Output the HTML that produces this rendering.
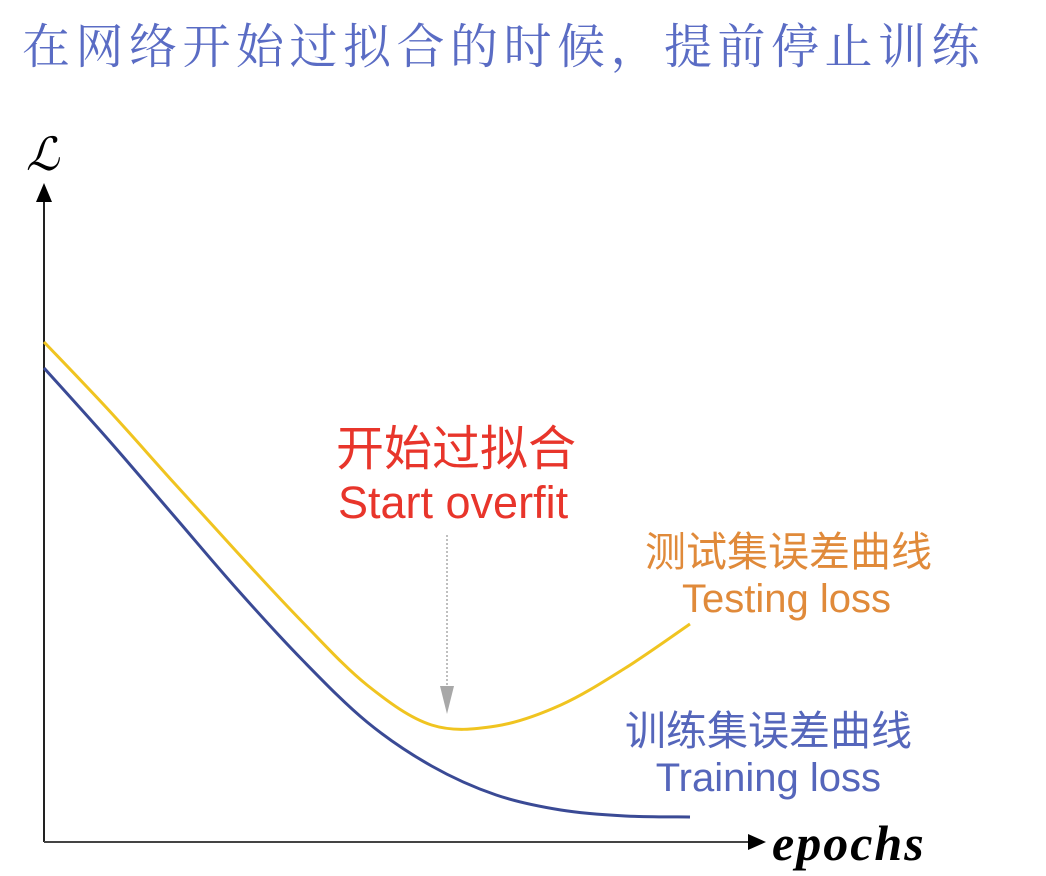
<!DOCTYPE html>
<html><head><meta charset="utf-8"><style>
body{margin:0;background:#fff;}
#root{position:relative;width:1046px;height:876px;overflow:hidden;font-family:"Liberation Sans","Noto Sans CJK SC",sans-serif;}
.t{position:absolute;white-space:nowrap;line-height:1.2;}
</style></head><body>
<div id="root">
<div class="t" style="left:22px;top:14px;font-size:48px;letter-spacing:5.5px;color:#5a6cc4;font-family:'Noto Serif CJK SC','Noto Sans CJK SC',serif;">在网络开始过拟合的时候，提前停止训练</div>
<svg id="chart" width="1046" height="876" style="position:absolute;left:0;top:0">
<text x="26" y="170" font-size="46" font-style="italic" font-family="Liberation Serif,serif">ℒ</text>
<line x1="44" y1="842" x2="44" y2="198" stroke="#222" stroke-width="2"/>
<polygon points="44,183 36,202 52,202" fill="#000"/>
<line x1="44" y1="842" x2="752" y2="842" stroke="#444" stroke-width="2"/>
<polygon points="766,842 748,834 748,850" fill="#000"/>
<text x="772" y="860" font-size="50" font-style="italic" font-weight="bold" letter-spacing="2" font-family="Liberation Serif,serif">epochs</text>
<line x1="447" y1="535" x2="447" y2="690" stroke="#aaa" stroke-width="1.5" stroke-dasharray="2,2"/>
<polygon points="447,714 440,686 454,686" fill="#a8a8a8"/>
<g id="series"></g>
</svg>
<div class="t" style="left:336px;top:416px;font-size:48px;color:#e8352b;font-family:'Noto Sans CJK SC',sans-serif;">开始过拟合</div>
<div class="t" style="left:338px;top:476px;font-size:45px;color:#e8352b;">Start overfit</div>
<div class="t" style="right:114px;top:524px;font-size:41px;color:#e08a3a;font-family:'Noto Sans CJK SC',sans-serif;">测试集误差曲线</div>
<div class="t" style="right:155px;top:575px;font-size:40px;color:#e08a3a;">Testing loss</div>
<div class="t" style="right:134px;top:703px;font-size:41px;color:#5566bb;font-family:'Noto Sans CJK SC',sans-serif;">训练集误差曲线</div>
<div class="t" style="right:165px;top:754px;font-size:40px;color:#5566bb;">Training loss</div>
</div>
<script>
const epochs = [0,1,2,3,4,5,6,7,8,9,10];
const testingLoss = [50,43.2,36,28.9,22,15.7,11.7,11.6,13.7,17.4,21.8];
const trainingLoss = [47.4,40.2,32.7,25.2,18.2,12,7.6,4.7,3.2,2.6,2.5];
function xScale(e){return 44+e*64.6;}
function yScale(v){return 842-v*10;}
function pathFor(vals){
  const p=epochs.map((e,i)=>[xScale(e),yScale(vals[i])]);
  let d='M'+p[0][0]+','+p[0][1];
  for(let i=0;i<p.length-1;i++){
    const p0=p[Math.max(0,i-1)],p1=p[i],p2=p[i+1],p3=p[Math.min(p.length-1,i+2)];
    const c1x=p1[0]+(p2[0]-p0[0])/6,c1y=p1[1]+(p2[1]-p0[1])/6;
    const c2x=p2[0]-(p3[0]-p1[0])/6,c2y=p2[1]-(p3[1]-p1[1])/6;
    d+=' C'+c1x+','+c1y+' '+c2x+','+c2y+' '+p2[0]+','+p2[1];
  }
  return d;
}
const g=document.getElementById('series');
const ns='http://www.w3.org/2000/svg';
const a=document.createElementNS(ns,'path');
a.setAttribute('d',pathFor(testingLoss));a.setAttribute('fill','none');a.setAttribute('stroke','#f0c420');a.setAttribute('stroke-width','3');


g.appendChild(a);
const b=document.createElementNS(ns,'path');
b.setAttribute('d',pathFor(trainingLoss));b.setAttribute('fill','none');b.setAttribute('stroke','#3a4a95');b.setAttribute('stroke-width','3');


g.appendChild(b);
</script>
</body></html>
